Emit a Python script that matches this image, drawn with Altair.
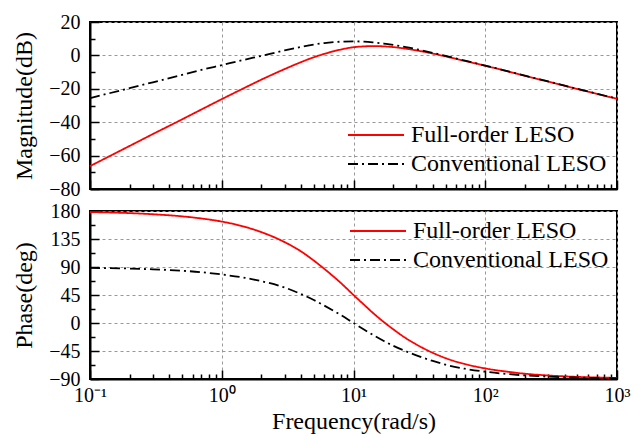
import altair as alt
import pandas as pd

freq = [0.1, 0.2, 0.3, 0.5, 0.7, 1, 1.5, 2, 3, 4, 5, 6, 8, 10, 12, 14, 17, 20, 25, 30,
        40, 50, 70, 100, 150, 200, 300, 500, 700, 1000]
mag_full = [-66.3, -54.2, -47.1, -38.3, -32.4, -26.2, -19.3, -14.5, -8.2, -4.0, -1.1, 0.9,
            3.5, 4.9, 5.4, 5.6, 5.4, 5.0, 4.0, 3.0, 1.1, -0.6, -3.3, -6.2, -9.7, -12.2,
            -15.7, -20.1, -23.0, -26.0]
mag_conv = [-25.6, -19.6, -16.1, -11.6, -8.7, -5.8, -2.5, -0.3, 3.0, 5.1, 6.5, 7.4, 8.2,
            8.4, 8.2, 7.8, 7.1, 6.3, 5.0, 3.7, 1.5, -0.3, -3.1, -6.1, -9.6, -12.1, -15.6,
            -20.0, -22.9, -25.9]
ph_full = [178.3, 176.6, 174.8, 171.4, 168.0, 163.0, 154.5, 146.0, 130.0, 115.0, 100.3,
           87.0, 64.5, 45.0, 29.5, 16.5, 1.5, -10.0, -24.5, -34.5, -48.0, -56.5, -66.0,
           -73.0, -78.5, -81.5, -84.3, -86.6, -87.5, -88.3]
ph_conv = [88.5, 87.5, 86.3, 84.0, 81.7, 78.0, 72.5, 67.2, 57.0, 46.5, 37.0, 28.0, 13.0,
           0.0, -10.5, -19.0, -29.0, -36.5, -45.5, -52.0, -61.0, -67.0, -73.5, -78.3,
           -82.2, -84.2, -86.2, -87.7, -88.4, -88.9]

series = ["Full-order LESO", "Conventional LESO"]
x_major = [0.1, 1, 10, 100, 1000]
x_minor = [0.2, 0.3, 0.4, 0.5, 0.6, 0.7, 0.8, 0.9, 2, 3, 4, 5, 6, 7, 8, 9,
           20, 30, 40, 50, 60, 70, 80, 90, 200, 300, 400, 500, 600, 700, 800, 900]
mag_major = [20, 0, -20, -40, -60, -80]
mag_minor = [10, -10, -30, -50, -70]
ph_major = [180, 135, 90, 45, 0, -45, -90]
ph_minor = [157.5, 112.5, 67.5, 22.5, -22.5, -67.5]

FONT = "Liberation Serif"
W = 527
H1 = 167
H2 = 168

def long_df(a, b):
    return pd.DataFrame({
        "f": freq + freq,
        "v": a + b,
        "s": [series[0]] * len(freq) + [series[1]] * len(freq),
    })

df_mag = long_df(mag_full, mag_conv)
df_ph = long_df(ph_full, ph_conv)

xscale = alt.Scale(type="log", domain=[0.1, 1000], nice=False)
label_expr = ("datum.value < 0.5 ? '10⁻¹' : datum.value < 5 ? '10⁰' : "
              "datum.value < 50 ? '10¹' : datum.value < 500 ? '10²' : '10³'")


def panel(df, ydomain, ymajor, yminor, ytitle, show_x, H, lx, ly):
    yscale = alt.Scale(domain=ydomain, nice=False, zero=False)
    leg = dict(orient="none", legendX=lx, legendY=ly, title=None,
               symbolType="M-2,0H2", symbolSize=784, symbolStrokeWidth=1.8,
               symbolFillColor="transparent",
               labelFont=FONT, labelFontSize=24, labelColor="black",
               labelOffset=20, labelLimit=400, padding=0, rowPadding=2)
    main = alt.Chart(df).mark_line(strokeWidth=1.8, interpolate="monotone").encode(
        x=alt.X("f:Q", scale=xscale, axis=alt.Axis(
            orient="bottom", values=x_major, labels=show_x, labelExpr=label_expr,
            labelFont=FONT, labelFontSize=20, labelColor="black", labelPadding=6,
            ticks=False, tickSize=0, domain=True, domainColor="black", domainWidth=2,
            grid=True, gridDash=[3, 3], gridColor="#999999", gridWidth=1,
            title="Frequency(rad/s)" if show_x else None, titleFont=FONT,
            titleFontSize=24, titleFontWeight="normal", titleColor="black",
            titlePadding=4, labelFlush=False)),
        y=alt.Y("v:Q", scale=yscale, axis=alt.Axis(
            orient="left", values=ymajor, labelFont=FONT, labelFontSize=20,
            labelColor="black", labelPadding=10, ticks=False, tickSize=0, domain=True,
            domainColor="black", domainWidth=2, grid=True, gridDash=[3, 3],
            gridColor="#999999", gridWidth=1, title=ytitle, titleFont=FONT,
            titleFontSize=24, titleFontWeight="normal", titleColor="black",
            titlePadding=12, labelFlush=False)),
        color=alt.Color("s:N", scale=alt.Scale(domain=series, range=["#ff0000", "#000000"]),
                        legend=alt.Legend(**leg)),
        strokeDash=alt.StrokeDash("s:N", scale=alt.Scale(domain=series,
                                                         range=[[1, 0], [10, 4, 2, 4]]),
                                  legend=alt.Legend(**leg)),
    )

    def tick_layer(xv, yv, size):
        return alt.Chart(df).mark_line(opacity=0).encode(
            x=alt.X("f:Q", scale=xscale, axis=alt.Axis(
                orient="top", offset=-H, values=xv, labels=False, domain=False,
                grid=False, ticks=True, tickSize=size, tickColor="black",
                tickWidth=1.5, title=None)),
            y=alt.Y("v:Q", scale=yscale, axis=alt.Axis(
                orient="right", offset=-W, values=yv, labels=False, domain=False,
                grid=False, ticks=True, tickSize=size, tickColor="black",
                tickWidth=1.5, title=None)),
        )

    return alt.layer(main, tick_layer(x_major, ymajor, 9),
                     tick_layer(x_minor, yminor, 5)).resolve_axis(
        x="independent", y="independent").properties(width=W, height=H)


top = panel(df_mag, [-80, 20], mag_major, mag_minor, "Magnitude(dB)", False, H1, 271, 98)
bottom = panel(df_ph, [-90, 180], ph_major, ph_minor, "Phase(deg)", True, H2, 273, 5)

chart = alt.vconcat(top, bottom, spacing=22, bounds="flush").resolve_scale(
    color="independent", strokeDash="independent"
).properties(
    padding={"left": 3, "top": 3, "right": 0, "bottom": 3}
).configure_view(stroke="black", strokeWidth=2)

chart.save("out.html", embed_options={"renderer": "svg", "actions": False})
